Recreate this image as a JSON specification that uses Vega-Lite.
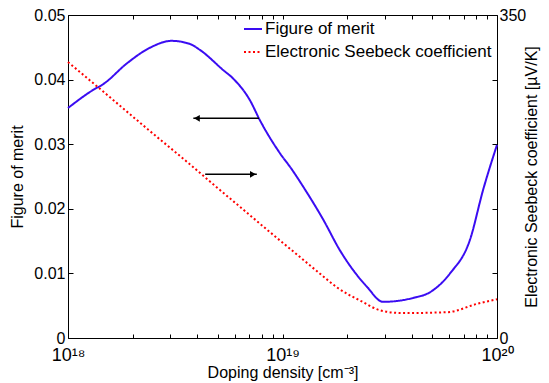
{
  "$schema": "https://vega.github.io/schema/vega-lite/v6.json",
  "width": 429,
  "height": 323,
  "autosize": {"type": "none"},
  "padding": {"left": 68, "top": 15, "right": 52, "bottom": 45},
  "background": "white",
  "config": {
    "font": "Liberation Sans",
    "view": {"stroke": null},
    "axis": {
      "domainColor": "black",
      "domainWidth": 1,
      "tickColor": "black",
      "tickWidth": 1,
      "labelColor": "black",
      "titleColor": "black",
      "labelFontSize": 16,
      "titleFontSize": 16,
      "titleFontWeight": "normal",
      "grid": false
    },
    "legend": {"labelFontSize": 16, "labelColor": "black"}
  },
  "layer": [
    {
      "layer": [
        {
          "data": {"values": [
            {"doping": 1.0e18, "value": 0.0356, "series": "Figure of merit"},
            {"doping": 1.31e18, "value": 0.0384, "series": "Figure of merit"},
            {"doping": 1.46e18, "value": 0.0393, "series": "Figure of merit"},
            {"doping": 1.88e18, "value": 0.0425, "series": "Figure of merit"},
            {"doping": 2.40e18, "value": 0.0449, "series": "Figure of merit"},
            {"doping": 3.04e18, "value": 0.0460, "series": "Figure of merit"},
            {"doping": 3.71e18, "value": 0.0455, "series": "Figure of merit"},
            {"doping": 4.12e18, "value": 0.0446, "series": "Figure of merit"},
            {"doping": 5.28e18, "value": 0.0415, "series": "Figure of merit"},
            {"doping": 5.87e18, "value": 0.0402, "series": "Figure of merit"},
            {"doping": 7.05e18, "value": 0.0368, "series": "Figure of merit"},
            {"doping": 7.85e18, "value": 0.0337, "series": "Figure of merit"},
            {"doping": 9.73e18, "value": 0.0286, "series": "Figure of merit"},
            {"doping": 1.10e19, "value": 0.0262, "series": "Figure of merit"},
            {"doping": 1.25e19, "value": 0.0234, "series": "Figure of merit"},
            {"doping": 1.55e19, "value": 0.0183, "series": "Figure of merit"},
            {"doping": 1.85e19, "value": 0.0136, "series": "Figure of merit"},
            {"doping": 2.48e19, "value": 0.0079, "series": "Figure of merit"},
            {"doping": 2.94e19, "value": 0.0056, "series": "Figure of merit"},
            {"doping": 4.06e19, "value": 0.0062, "series": "Figure of merit"},
            {"doping": 4.88e19, "value": 0.0071, "series": "Figure of merit"},
            {"doping": 6.04e19, "value": 0.0100, "series": "Figure of merit"},
            {"doping": 7.48e19, "value": 0.0152, "series": "Figure of merit"},
            {"doping": 8.61e19, "value": 0.0229, "series": "Figure of merit"},
            {"doping": 1.0e20, "value": 0.0299, "series": "Figure of merit"}
          ]},
          "mark": {"type": "line", "strokeWidth": 2, "interpolate": "monotone"},
          "encoding": {
            "x": {
              "field": "doping", "type": "quantitative",
              "scale": {"type": "log", "domain": [1e18, 1e20], "nice": false},
              "axis": {
                "orient": "bottom",
                "title": "Doping density [cm⁻³]",
                "values": [1e18, 2e18, 3e18, 4e18, 5e18, 6e18, 7e18, 8e18, 9e18, 1e19, 2e19, 3e19, 4e19, 5e19, 6e19, 7e19, 8e19, 9e19, 1e20],
                "labelExpr": "datum.value == 1e18 ? '10¹⁸' : datum.value == 1e19 ? '10¹⁹' : datum.value == 1e20 ? '10²⁰' : ''",
                "tickSize": -4,
                "labelPadding": 12,
                "labelFontSize": 18,
                "labelFlush": false,
                "labelOverlap": false,
                "titlePadding": 0
              }
            },
            "y": {
              "field": "value", "type": "quantitative",
              "scale": {"domain": [0, 0.05], "nice": false, "zero": true},
              "axis": {
                "orient": "left",
                "title": "Figure of merit",
                "values": [0, 0.01, 0.02, 0.03, 0.04, 0.05],
                "labelExpr": "datum.value == 0 ? '0' : format(datum.value, '.2f')",
                "tickSize": -5,
                "labelPadding": 8,
                "titlePadding": 8
              }
            },
            "color": {
              "field": "series", "type": "nominal",
              "scale": {"domain": ["Figure of merit", "Electronic Seebeck coefficient"], "range": ["#3a0cf2", "#ff0000"]},
              "legend": {
                "title": null, "orient": "none", "legendX": 175, "legendY": 4,
                "symbolType": "stroke", "symbolSize": 324, "symbolStrokeWidth": 2,
                "labelFontSize": 17, "labelOffset": 2, "rowPadding": 5, "labelLimit": 0
              }
            },
            "strokeDash": {
              "field": "series", "type": "nominal",
              "scale": {"domain": ["Figure of merit", "Electronic Seebeck coefficient"], "range": [[1, 0], [2, 2.5]]},
              "legend": {
                "title": null, "orient": "none", "legendX": 175, "legendY": 4,
                "symbolType": "stroke", "symbolSize": 324, "symbolStrokeWidth": 2,
                "labelFontSize": 17, "labelOffset": 2, "rowPadding": 5, "labelLimit": 0
              }
            }
          }
        },
        {
          "data": {"values": [
            {"from": 7.77e18, "to": 3.84e18, "level": 0.0340},
            {"from": 4.36e18, "to": 7.59e18, "level": 0.02534}
          ]},
          "mark": {"type": "rule", "color": "black", "strokeWidth": 1.5},
          "encoding": {
            "x": {"field": "from", "type": "quantitative"},
            "x2": {"field": "to"},
            "y": {"field": "level", "type": "quantitative"}
          }
        },
        {
          "data": {"values": [
            {"tip": 3.99e18, "level": 0.0340, "head": "triangle-left"},
            {"tip": 7.28e18, "level": 0.02534, "head": "triangle-right"}
          ]},
          "mark": {"type": "point", "filled": true, "color": "black", "size": 45, "opacity": 1},
          "encoding": {
            "x": {"field": "tip", "type": "quantitative"},
            "y": {"field": "level", "type": "quantitative"},
            "shape": {"field": "head", "type": "nominal", "scale": {"domain": ["triangle-left", "triangle-right"], "range": ["triangle-left", "triangle-right"]}, "legend": null}
          }
        }
      ]
    },
    {
      "data": {"values": [
        {"doping": 1.0e18, "seebeck": 299, "series": "Electronic Seebeck coefficient"},
        {"doping": 1.46e18, "seebeck": 267, "series": "Electronic Seebeck coefficient"},
        {"doping": 2.36e18, "seebeck": 226, "series": "Electronic Seebeck coefficient"},
        {"doping": 3.71e18, "seebeck": 188, "series": "Electronic Seebeck coefficient"},
        {"doping": 4.84e18, "seebeck": 165, "series": "Electronic Seebeck coefficient"},
        {"doping": 6.81e18, "seebeck": 136, "series": "Electronic Seebeck coefficient"},
        {"doping": 8.71e18, "seebeck": 115, "series": "Electronic Seebeck coefficient"},
        {"doping": 1.16e19, "seebeck": 91, "series": "Electronic Seebeck coefficient"},
        {"doping": 1.49e19, "seebeck": 70, "series": "Electronic Seebeck coefficient"},
        {"doping": 1.79e19, "seebeck": 55, "series": "Electronic Seebeck coefficient"},
        {"doping": 2.37e19, "seebeck": 39, "series": "Electronic Seebeck coefficient"},
        {"doping": 2.85e19, "seebeck": 30, "series": "Electronic Seebeck coefficient"},
        {"doping": 3.63e19, "seebeck": 27, "series": "Electronic Seebeck coefficient"},
        {"doping": 5.89e19, "seebeck": 28, "series": "Electronic Seebeck coefficient"},
        {"doping": 8.07e19, "seebeck": 37, "series": "Electronic Seebeck coefficient"},
        {"doping": 1.0e20, "seebeck": 42, "series": "Electronic Seebeck coefficient"}
      ]},
      "mark": {"type": "line", "strokeWidth": 2, "interpolate": "monotone"},
      "encoding": {
        "x": {
          "field": "doping", "type": "quantitative",
          "axis": {
            "orient": "top",
            "title": null,
            "values": [1e18, 2e18, 3e18, 4e18, 5e18, 6e18, 7e18, 8e18, 9e18, 1e19, 2e19, 3e19, 4e19, 5e19, 6e19, 7e19, 8e19, 9e19, 1e20],
            "labels": false,
            "tickSize": -4
          }
        },
        "y": {
          "field": "seebeck", "type": "quantitative",
          "scale": {"domain": [0, 350], "nice": false},
          "axis": {
            "orient": "right",
            "title": "Electronic Seebeck coefficient [µV/K]",
            "titleAngle": -90,
            "values": [0, 70, 140, 210, 280, 350],
            "labelExpr": "datum.value == 0 || datum.value == 350 ? datum.label : ''",
            "tickSize": -5,
            "labelPadding": 7,
            "titlePadding": 14
          }
        },
        "color": {"field": "series", "type": "nominal"},
        "strokeDash": {"field": "series", "type": "nominal"}
      }
    }
  ],
  "resolve": {"scale": {"y": "independent"}}
}
